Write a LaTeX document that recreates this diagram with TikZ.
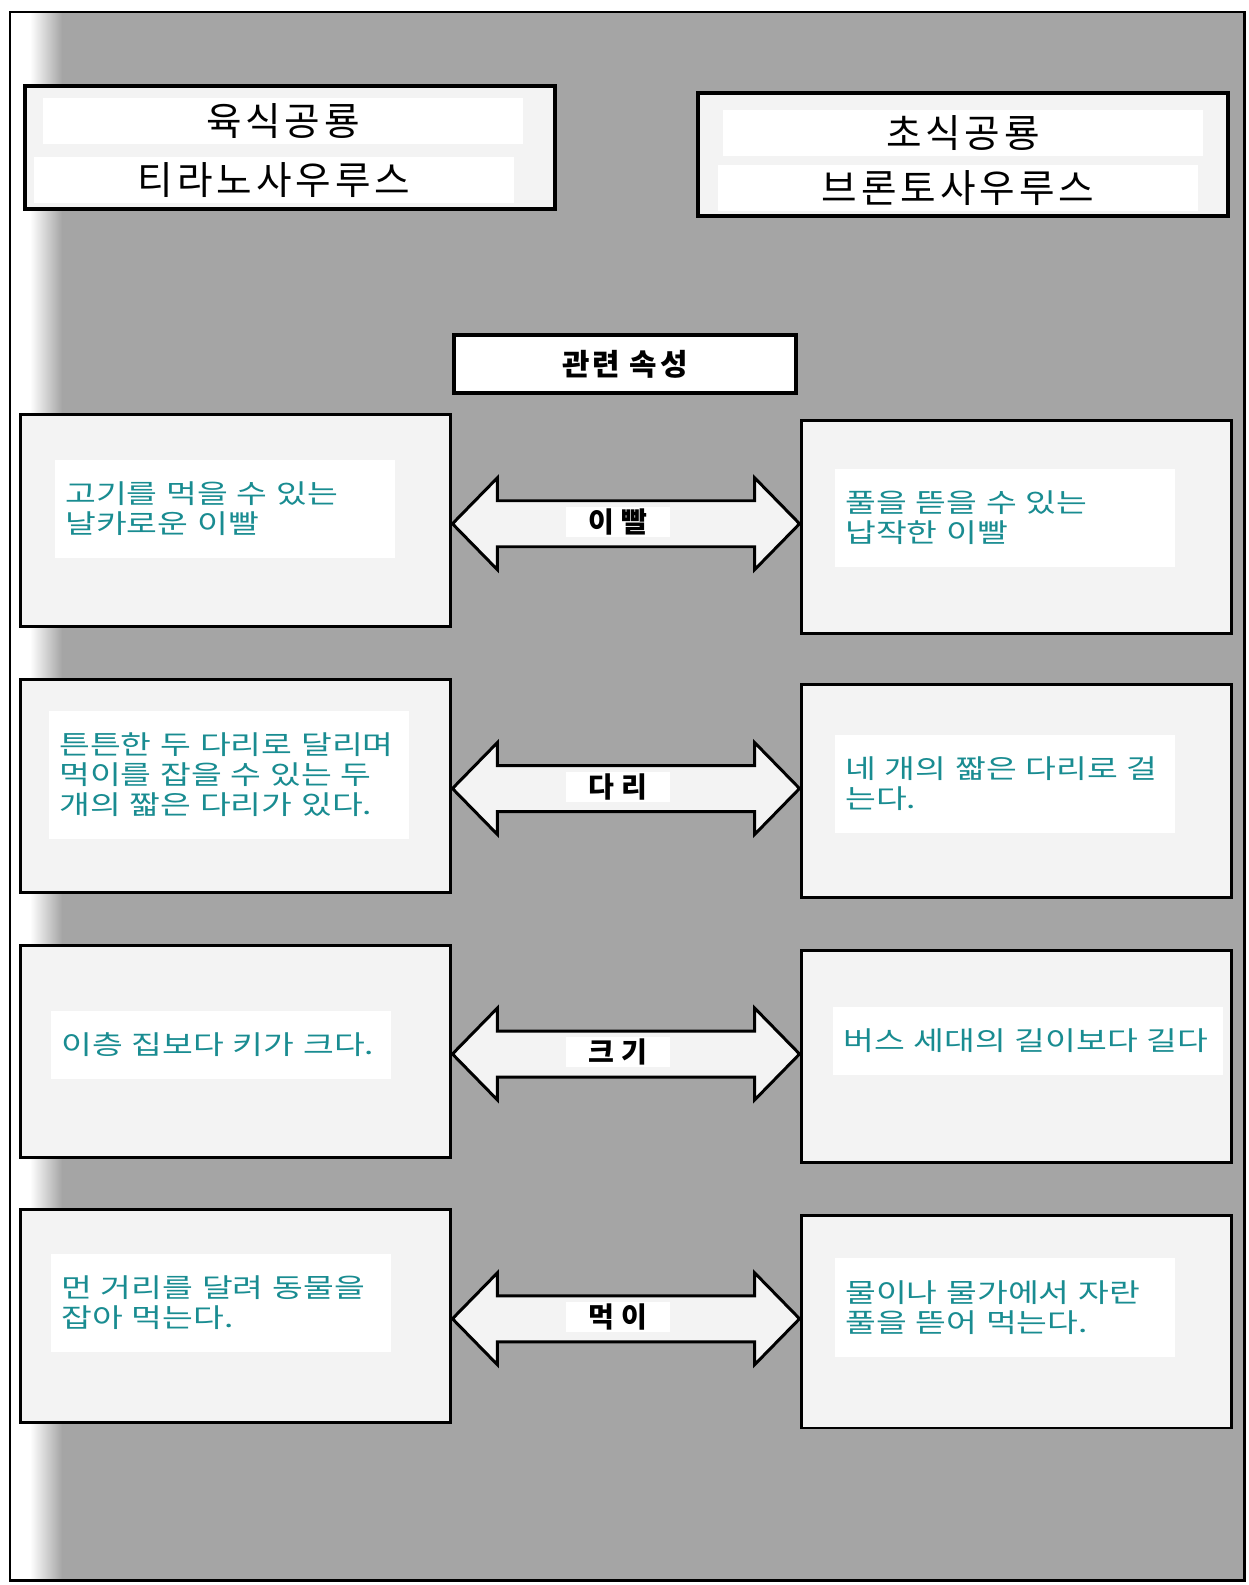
\documentclass[tikz,border=0pt]{standalone}
\usepackage{fontspec}
\setmainfont{Noto Sans CJK KR}
\newfontfamily\handfont[FakeStretch=1.27]{Noto Sans CJK KR}
\newfontfamily\titlefont[LetterSpace=10]{Noto Sans CJK KR}
\newfontfamily\labelfont[LetterSpace=25]{Noto Sans CJK KR}
\usetikzlibrary{calc}
\definecolor{bggray}{RGB}{165,165,165}
\definecolor{boxgray}{RGB}{243,243,243}
\definecolor{inkteal}{RGB}{25,140,145}

\begin{document}
\begin{tikzpicture}[x=0.02cm, y=-0.02cm,
  titlebox/.style={draw, line width=2.3pt, fill=boxgray, minimum width=10.6cm, minimum height=2.46cm, inner sep=0pt},
  titletext/.style={fill=white, font=\titlefont\fontsize{22}{24}\selectfont, minimum width=9.6cm, inner ysep=3pt},
  factbox/.style={draw, line width=1.7pt, fill=boxgray, minimum width=8.62cm, minimum height=4.26cm, inner sep=0pt},
  note/.style={anchor=west, fill=white, text=inkteal, align=left, text width=6.4cm, font=\handfont\fontsize{15}{17}\selectfont, inner xsep=0.2cm, inner ysep=0.45cm},
  keybox/.style={draw, line width=1.9pt, fill=white, minimum width=6.84cm, minimum height=1.16cm, font=\titlefont\bfseries\fontsize{17}{19}\selectfont},
  fat/.style={draw, line width=1.7pt, fill=boxgray, line join=miter},
  keylabel/.style={fill=white, font=\labelfont\bfseries\fontsize{16}{18}\selectfont, minimum width=2.08cm, minimum height=0.5cm, inner sep=1pt}]
\useasboundingbox (0,0) rectangle (1248,1585);
% page background
	\fill[bggray] (10,12) rectangle (1244,1580);
	\fill[white] (11,13) rectangle (30,1579);
	\shade[left color=white, right color=bggray] (30,13) rectangle (62,1579);
	\draw[line width=1.7pt] (10,12) rectangle (1244,1580);
% dinosaur titles
	\node[titlebox] (carn) at (290,147.5) {};
	\node[titletext] (carn1) at (283,121) {육식공룡};
	\node[titletext] (carn2) at (274,180) {티라노사우루스};
	\node[titlebox] (herb) at (963,154.5) {};
	\node[titletext] (herb1) at (963,133) {초식공룡};
	\node[titletext] (herb2) at (958,188) {브론토사우루스};
% attribute heading
	\node[keybox] (key) at (625,364) {관련 속성};
% left column
	\node[factbox] (l1) at (235.5,520.5) {};
	\node[factbox] (l2) at (235.5,786) {};
	\node[factbox] (l3) at (235.5,1051.5) {};
	\node[factbox] (l4) at (235.5,1316) {};
	\node[note] (n1) at (55,509) {고기를 먹을 수 있는\\날카로운 이빨};
	\node[note, text width=6.8cm] (n2) at (49,775) {튼튼한 두 다리로 달리며\\먹이를 잡을 수 있는 두\\개의 짧은 다리가 있다.};
	\node[note] (n3) at (51,1045) {이층 집보다 키가 크다.};
	\node[note] (n4) at (51,1303) {먼 거리를 달려 동물을\\잡아 먹는다.};
% right column
	\node[factbox] (r1) at (1016.5,527) {};
	\node[factbox] (r2) at (1016.5,791) {};
	\node[factbox] (r3) at (1016.5,1056.5) {};
	\node[factbox] (r4) at (1016.5,1321.5) {};
	\node[note] (p1) at (835,518) {풀을 뜯을 수 있는\\납작한 이빨};
	\node[note] (p2) at (835,784) {네 개의 짧은 다리로 걸\\는다.};
	\node[note, text width=7.4cm] (p3) at (833,1041) {버스 세대의 길이보다 길다};
	\node[note] (p4) at (835,1307.5) {물이나 물가에서 자란\\풀을 뜯어 먹는다.};
% double arrows
	\foreach \i/\lab in {1/이빨, 2/다리, 3/크기, 4/먹이}{
		\coordinate (m\i) at ($(l\i.east)!0.5!(r\i.west)$);
		\coordinate (a\i) at (l\i.east |- m\i);
		\coordinate (b\i) at (r\i.west |- m\i);
		\draw[fat] (a\i) -- ($(a\i)+(45,-46)$) -- ($(a\i)+(45,-23)$) -- ($(b\i)+(-45,-23)$) -- ($(b\i)+(-45,-46)$) -- (b\i)
			-- ($(b\i)+(-45,46)$) -- ($(b\i)+(-45,23)$) -- ($(a\i)+(45,23)$) -- ($(a\i)+(45,46)$) -- cycle;
		\node[keylabel] (k\i) at ($(m\i)+(-8,-2)$) {\lab};
	}
\end{tikzpicture}
\end{document}
